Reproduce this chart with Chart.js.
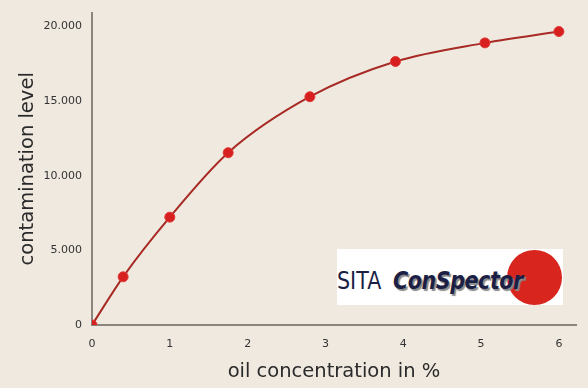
<!DOCTYPE html>
<html>
<head>
<meta charset="utf-8">
<script src="https://cdn.jsdelivr.net/npm/chart.js@4"></script>
<style>
  html, body { margin: 0; padding: 0; background: #efe9e0; }
  #wrap { position: relative; width: 588px; height: 388px; }
  #logo {
    position: absolute; left: 337px; top: 249px; width: 226px; height: 56px;
    background: #fff; overflow: hidden;
  }
  #logo .dot {
    position: absolute; left: 170px; top: 1px; width: 55px; height: 55px;
    border-radius: 50%; background: #d8261e;
  }
  #logo .sita {
    position: absolute; left: 0px; top: 18px; font: 24px "DejaVu Sans";
    color: #1b1f45; transform: scaleX(0.86); transform-origin: left top;
  }
  #logo .con {
    position: absolute; left: 56px; top: 18px; font: italic bold 24px "DejaVu Sans";
    color: #1b1f45; letter-spacing: -0.5px; text-shadow: 2px 2px 1px #8a8a8a;
    transform: scaleX(0.86); transform-origin: left top;
  }
</style>
</head>
<body>
<div id="wrap">
  <canvas id="chart" width="588" height="388"></canvas>
  <div id="logo"><div class="dot"></div><div class="sita">SITA</div><div class="con">ConSpector</div></div>
</div>
<script>
// oil concentration (%) and contamination level
const oilPercent = [0, 0.4, 1, 1.75, 2.8, 3.9, 5.05, 6];
const contamination = [0, 3230, 7230, 11550, 15300, 17660, 18910, 19670];
const xTicks = [0, 1, 2, 3, 4, 5, 6];
const yTicks = [0, 5000, 10000, 15000, 20000];

function fmt(v) {
    if (v === 0) return '0';
    return String(v).replace(/\B(?=(\d{3})+(?!\d))/g, '.');
}

var ctx = document.getElementById('chart').getContext('2d');
var chart = new Chart(ctx, {
    type: 'scatter',
    data: {
        datasets: [{
            label: 'contamination',
            data: oilPercent.map((x, i) => ({ x: x, y: contamination[i] })),
            showLine: true,
            borderColor: '#a82a24',
            borderWidth: 2,
            cubicInterpolationMode: 'monotone',
            pointRadius: 5,
            pointBackgroundColor: '#d81f1f',
            pointBorderColor: '#e03a36',
            pointBorderWidth: 1
        }]
    },
    options: {
        responsive: false,
        animation: false,
        layout: { padding: { top: 12, right: 12, left: 0, bottom: 0 } },
        plugins: { legend: { display: false }, tooltip: { enabled: false } },
        scales: {
            x: {
                type: 'linear',
                min: 0,
                max: 6.22,
                afterBuildTicks: (axis) => { axis.ticks = xTicks.map(v => ({ value: v })); },
                afterFit: (axis) => { axis.height = 63; },
                grid: { display: false, drawTicks: true, tickLength: 3, color: '#8a857e' },
                border: { color: '#8a857e', width: 2 },
                ticks: { color: '#333', font: { family: 'DejaVu Sans', size: 11 }, padding: 10 },
                title: {
                    display: true, text: 'oil concentration in %', color: '#2a2a2a',
                    font: { family: 'DejaVu Sans', size: 19.5 }, padding: { top: 4 }
                }
            },
            y: {
                min: 0,
                max: 20940,
                afterBuildTicks: (axis) => { axis.ticks = yTicks.map(v => ({ value: v })); },
                afterFit: (axis) => { axis.width = 92; },
                grid: { display: false, drawTicks: true, tickLength: 4, color: '#8a857e' },
                border: { color: '#8a857e', width: 2 },
                ticks: {
                    color: '#333', font: { family: 'DejaVu Sans', size: 11 }, padding: 6,
                    callback: (v) => fmt(v)
                },
                title: {
                    display: true, text: 'contamination level', color: '#2a2a2a',
                    font: { family: 'DejaVu Sans', size: 19.5 }, padding: { top: 16, bottom: 8 }
                }
            }
        }
    }
});
</script>
</body>
</html>
